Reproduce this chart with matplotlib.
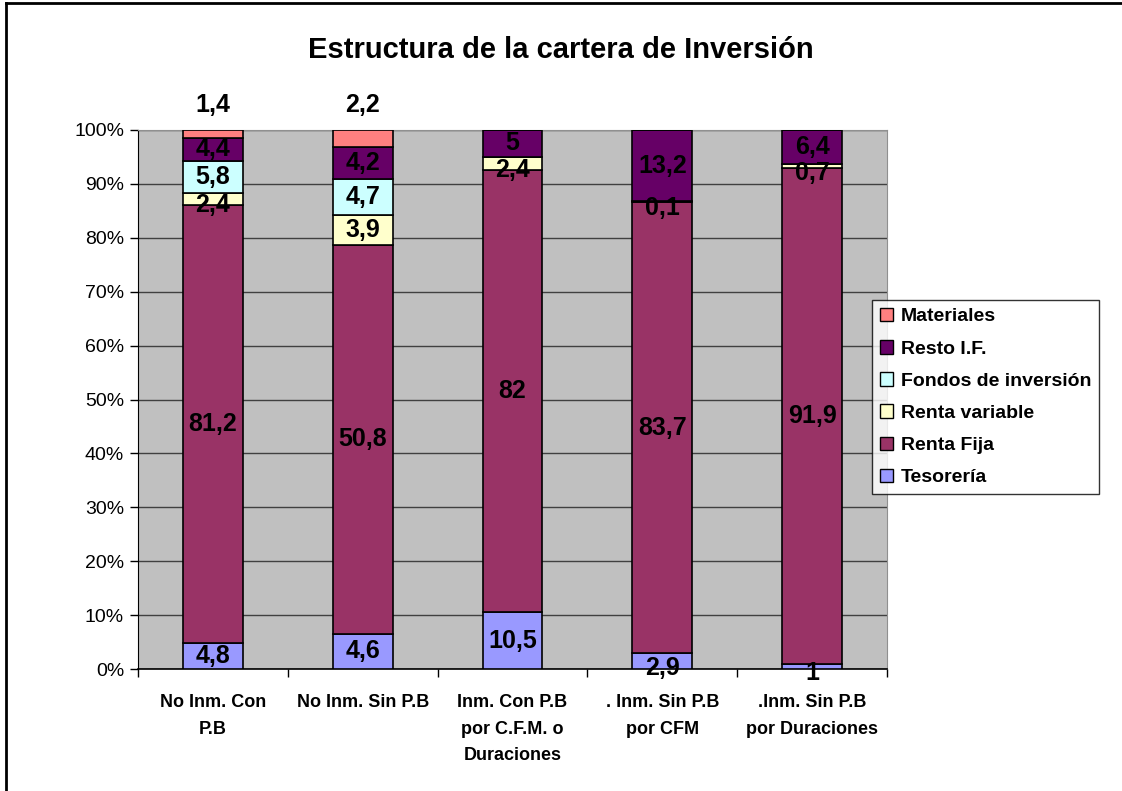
import numpy as np
import matplotlib
matplotlib.use("Agg")
import matplotlib.pyplot as plt
from matplotlib.patches import Patch

plt.rcParams['font.family'] = ['Liberation Sans', 'DejaVu Sans']

categories = ["No Inm. Con\nP.B", "No Inm. Sin P.B", "Inm. Con P.B\npor C.F.M. o\nDuraciones",
              ". Inm. Sin P.B\npor CFM", ".Inm. Sin P.B\npor Duraciones"]
series = ["Tesorería", "Renta Fija", "Renta variable", "Fondos de inversión", "Resto I.F.", "Materiales"]
tesoreria = [4.8, 4.6, 10.5, 2.9, 1.0]
renta_fija = [81.2, 50.8, 82.0, 83.7, 91.9]
renta_variable = [2.4, 3.9, 2.4, 0.1, 0.7]
fondos = [5.8, 4.7, 0.0, 0.0, 0.0]
resto_if = [4.4, 4.2, 5.0, 13.2, 6.4]
materiales = [1.4, 2.2, 0.0, 0.0, 0.0]
colors = ["#9999FF", "#993366", "#FFFFCC", "#CCFFFF", "#660066", "#FF8080"]

data = np.array([tesoreria, renta_fija, renta_variable, fondos, resto_if, materiales])
totals = data.sum(axis=0)
pct = data / totals * 100  # 100% stacked columns

fig = plt.figure(figsize=(11.22, 7.91), dpi=100)
ax = fig.add_axes([138/1122, 1-669/791, (887-138)/1122, (669-130)/791])
ax.set_facecolor("#C0C0C0")

x = np.arange(len(categories))
bottom = np.zeros(len(categories))
for i, name in enumerate(series):
    ax.bar(x, pct[i], 0.4, bottom=bottom, color=colors[i], edgecolor="black", linewidth=1.2, zorder=3)
    for j in range(len(categories)):
        v = data[i, j]
        if v == 0:
            continue
        txt = f"{v:g}".replace(".", ",")
        if name == "Materiales":
            y = 104.6
        else:
            y = bottom[j] + pct[i, j] / 2
            # tiny segments: Excel pushes the label down a bit
            if pct[i, j] < 3:
                y -= 1.2
        ax.text(x[j], y, txt, ha="center", va="center", fontsize=18, fontweight="bold",
                zorder=5, clip_on=False)
    bottom += pct[i]

ax.set_xlim(-0.5, len(categories) - 0.5)
ax.set_ylim(0, 100)
ax.set_yticks(np.arange(0, 101, 10))
ax.set_yticklabels([f"{v}%" for v in range(0, 101, 10)], fontsize=14)
ax.yaxis.grid(True, color="#404040", linewidth=1, zorder=1)
ax.set_axisbelow(True)
ax.tick_params(axis="y", direction="out", length=6, width=1, pad=4)

ax.set_xticks(x)
ax.set_xticklabels(categories, fontsize=13, fontweight="bold", linespacing=1.75, va="top")
ax.set_xticks(np.arange(-0.5, len(categories)), minor=True)
ax.tick_params(axis="x", which="major", length=0, pad=18)
ax.tick_params(axis="x", which="minor", direction="out", length=6, width=1)

for s in ["top", "right"]:
    ax.spines[s].set_color("#909090")
ax.spines["left"].set_color("black")
ax.spines["bottom"].set_color("black")
ax.spines["bottom"].set_linewidth(1.2)

fig.text(0.5, 1-50/791, "Estructura de la cartera de Inversión", ha="center", va="center",
         fontsize=21, fontweight="bold")

handles = [Patch(facecolor=colors[i], edgecolor="black", label=series[i]) for i in range(len(series))][::-1]
leg = fig.legend(handles=handles, loc="upper left", bbox_to_anchor=(872/1122, 1-300/791),
                 prop={"weight": "bold", "size": 14}, frameon=True, fancybox=False,
                 handlelength=0.7, handleheight=0.7, handletextpad=0.4, labelspacing=0.75,
                 borderpad=0.4, borderaxespad=0)
leg.get_frame().set_edgecolor("black")
leg.get_frame().set_linewidth(1)

# outer chart border
fig.add_artist(plt.Line2D([6/1122, 6/1122], [0, 1-3/791], color="black", lw=2, transform=fig.transFigure))
fig.add_artist(plt.Line2D([6/1122, 1], [1-3/791, 1-3/791], color="black", lw=2, transform=fig.transFigure))

fig.savefig("out.png", dpi=100)
